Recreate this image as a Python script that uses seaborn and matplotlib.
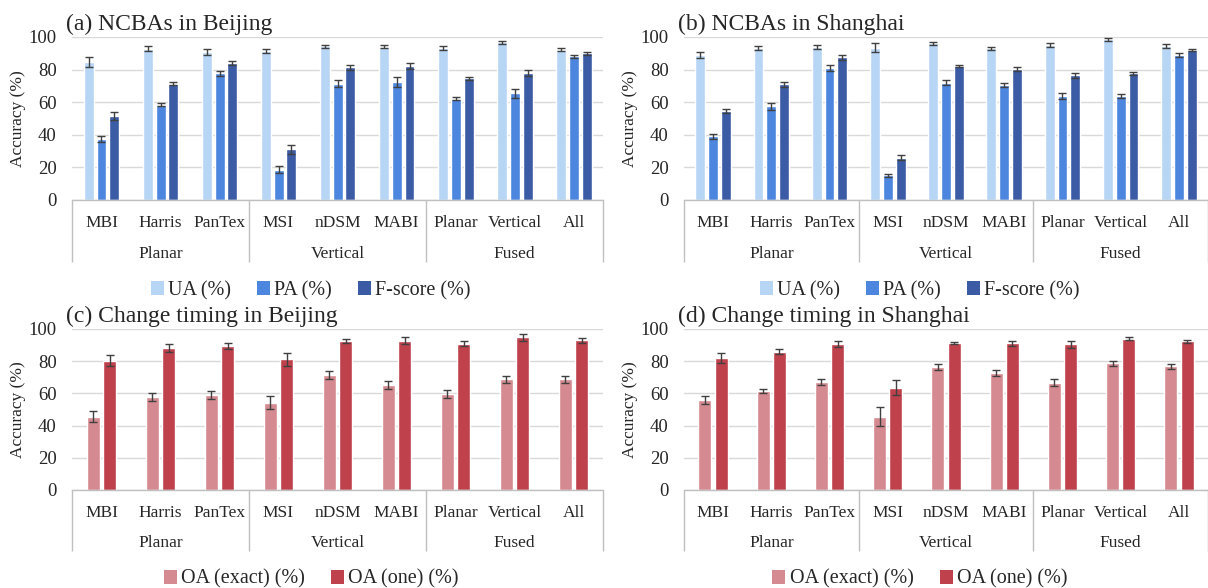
import numpy as np
import pandas as pd
import matplotlib
matplotlib.use("Agg")
import matplotlib.pyplot as plt
from matplotlib.patches import Patch
import seaborn as sns

# categories
cats = ["MBI", "Harris", "PanTex", "MSI", "nDSM", "MABI", "Planar", "Vertical", "All"]
groups = ["Planar", "Vertical", "Fused"]

# (a) NCBAs in Beijing
bj_ua = [84.8, 92.7, 91.0, 91.6, 94.3, 94.0, 93.0, 96.6, 92.2]
bj_ua_err = [3.0, 1.5, 1.8, 1.2, 1.0, 1.0, 1.3, 1.0, 1.0]
bj_pa = [37.3, 58.4, 77.8, 18.6, 71.4, 72.4, 62.2, 65.3, 88.0]
bj_pa_err = [2.0, 1.0, 1.5, 2.0, 2.0, 3.0, 1.2, 2.5, 1.2]
bj_f = [51.5, 71.4, 84.0, 31.0, 81.3, 82.3, 74.5, 78.0, 90.0]
bj_f_err = [2.5, 1.0, 1.0, 3.0, 1.5, 2.0, 1.0, 2.0, 1.0]

# (b) NCBAs in Shanghai
sh_ua = [89.0, 93.3, 94.0, 93.5, 96.0, 93.0, 95.0, 98.5, 94.5]
sh_ua_err = [2.0, 1.2, 1.2, 2.5, 0.8, 0.8, 1.2, 0.8, 1.2]
sh_pa = [39.0, 57.4, 81.0, 15.0, 72.0, 70.5, 64.0, 64.0, 89.0]
sh_pa_err = [1.5, 2.0, 2.0, 1.2, 1.3, 1.2, 1.8, 1.2, 1.2]
sh_f = [54.4, 71.0, 87.4, 26.0, 82.3, 80.3, 76.5, 77.7, 92.0]
sh_f_err = [1.3, 1.5, 1.3, 1.5, 0.6, 1.0, 1.4, 0.9, 0.6]

# (c) Change timing in Beijing
bj_exact = [45.5, 58.0, 59.2, 54.2, 71.2, 65.2, 59.6, 68.7, 68.7]
bj_exact_err = [3.5, 2.5, 2.5, 4.0, 2.5, 2.5, 2.5, 2.0, 2.0]
bj_one = [80.3, 88.0, 89.6, 81.2, 92.8, 92.8, 90.9, 94.8, 93.0]
bj_one_err = [3.5, 2.5, 2.0, 4.0, 1.2, 2.0, 1.5, 2.0, 1.5]

# (d) Change timing in Shanghai
sh_exact = [55.9, 61.5, 66.9, 45.5, 76.4, 72.5, 66.7, 78.7, 76.8]
sh_exact_err = [2.5, 1.2, 2.0, 6.0, 1.8, 1.8, 2.0, 1.5, 1.5]
sh_one = [81.8, 86.0, 90.9, 63.6, 91.1, 91.1, 90.5, 94.0, 92.3]
sh_one_err = [3.0, 1.5, 1.8, 4.5, 0.7, 1.5, 2.0, 1.0, 1.0]

ncba_names = ["UA (%)", "PA (%)", "F-score (%)"]
ncba_colors = ["#B7D5F5", "#4C86DF", "#3B5BA5"]
oa_names = ["OA (exact) (%)", "OA (one) (%)"]
oa_colors = ["#D48A90", "#BF414C"]

sns.set_style("white")
plt.rcParams["font.family"] = ["Liberation Serif", "DejaVu Serif"]


def draw_panel(ax, title, values, errs, names, colors, width, gap):
    """bar panel with error bars, two-level x labels and legend"""
    rows = []
    for name, vals in zip(names, values):
        for c, v in zip(cats, vals):
            rows.append({"cat": c, "series": name, "value": v})
    df = pd.DataFrame(rows)

    sns.barplot(data=df, x="cat", y="value", hue="series", order=cats,
                hue_order=names, palette=colors, width=width, gap=gap,
                errorbar=None, legend=False, saturation=1, ax=ax)

    for cont, err in zip(ax.containers, errs):
        xs = [p.get_x() + p.get_width() / 2 for p in cont]
        ys = [p.get_height() for p in cont]
        ax.errorbar(xs, ys, yerr=err, fmt="none", ecolor="#404040",
                    elinewidth=1, capsize=3.2, capthick=1, zorder=5)

    ax.set_ylim(0, 100)
    ax.set_xlim(-0.5, len(cats) - 0.5)
    ax.set_yticks(np.arange(0, 101, 20))
    ax.yaxis.grid(True, color="#D9D9D9", lw=1)
    ax.set_axisbelow(True)
    for s in ["top", "right", "left"]:
        ax.spines[s].set_visible(False)
    ax.spines["bottom"].set_color("#BFBFBF")
    ax.spines["bottom"].set_linewidth(1)
    ax.tick_params(axis="y", length=0, pad=11, labelsize=13.5)
    ax.tick_params(axis="x", length=0, pad=11, labelsize=12.5)
    ax.set_xlabel("")
    ax.set_ylabel("Accuracy (%)", fontsize=12.5, labelpad=2)

    # group separators and labels
    trans = ax.get_xaxis_transform()
    ax.vlines([-0.5, 2.5, 5.5, 8.5], 0, -0.38, transform=trans,
              color="#BFBFBF", lw=1, clip_on=False)
    for i, g in enumerate(groups):
        ax.text(3 * i + 1, -0.33, g, transform=trans, ha="center",
                va="center", fontsize=12.5)

    ax.text(-0.012, 1.045, title, transform=ax.transAxes, ha="left",
            va="baseline", fontsize=17)

    handles = [Patch(facecolor=c, edgecolor="none") for c in colors]
    ax.legend(handles, names, loc="center", bbox_to_anchor=(0.45, -0.555),
              ncol=len(names), frameon=False, fontsize=14.5,
              handlelength=0.65, handleheight=0.65, handletextpad=0.2,
              columnspacing=1.3)


fig = plt.figure(figsize=(12.08, 5.88), dpi=100)
ax_a = fig.add_axes([0.0596, 0.660, 0.4396, 0.2772])
ax_b = fig.add_axes([0.5662, 0.660, 0.4338, 0.2772])
ax_c = fig.add_axes([0.0596, 0.1667, 0.4396, 0.2738])
ax_d = fig.add_axes([0.5662, 0.1667, 0.4338, 0.2738])

draw_panel(ax_a, "(a) NCBAs in Beijing", [bj_ua, bj_pa, bj_f],
           [bj_ua_err, bj_pa_err, bj_f_err], ncba_names, ncba_colors, 0.66, 0.23)
draw_panel(ax_b, "(b) NCBAs in Shanghai", [sh_ua, sh_pa, sh_f],
           [sh_ua_err, sh_pa_err, sh_f_err], ncba_names, ncba_colors, 0.66, 0.23)
draw_panel(ax_c, "(c) Change timing in Beijing", [bj_exact, bj_one],
           [bj_exact_err, bj_one_err], oa_names, oa_colors, 0.56, 0.2)
draw_panel(ax_d, "(d) Change timing in Shanghai", [sh_exact, sh_one],
           [sh_exact_err, sh_one_err], oa_names, oa_colors, 0.56, 0.2)

fig.savefig("out.png", dpi=100)
